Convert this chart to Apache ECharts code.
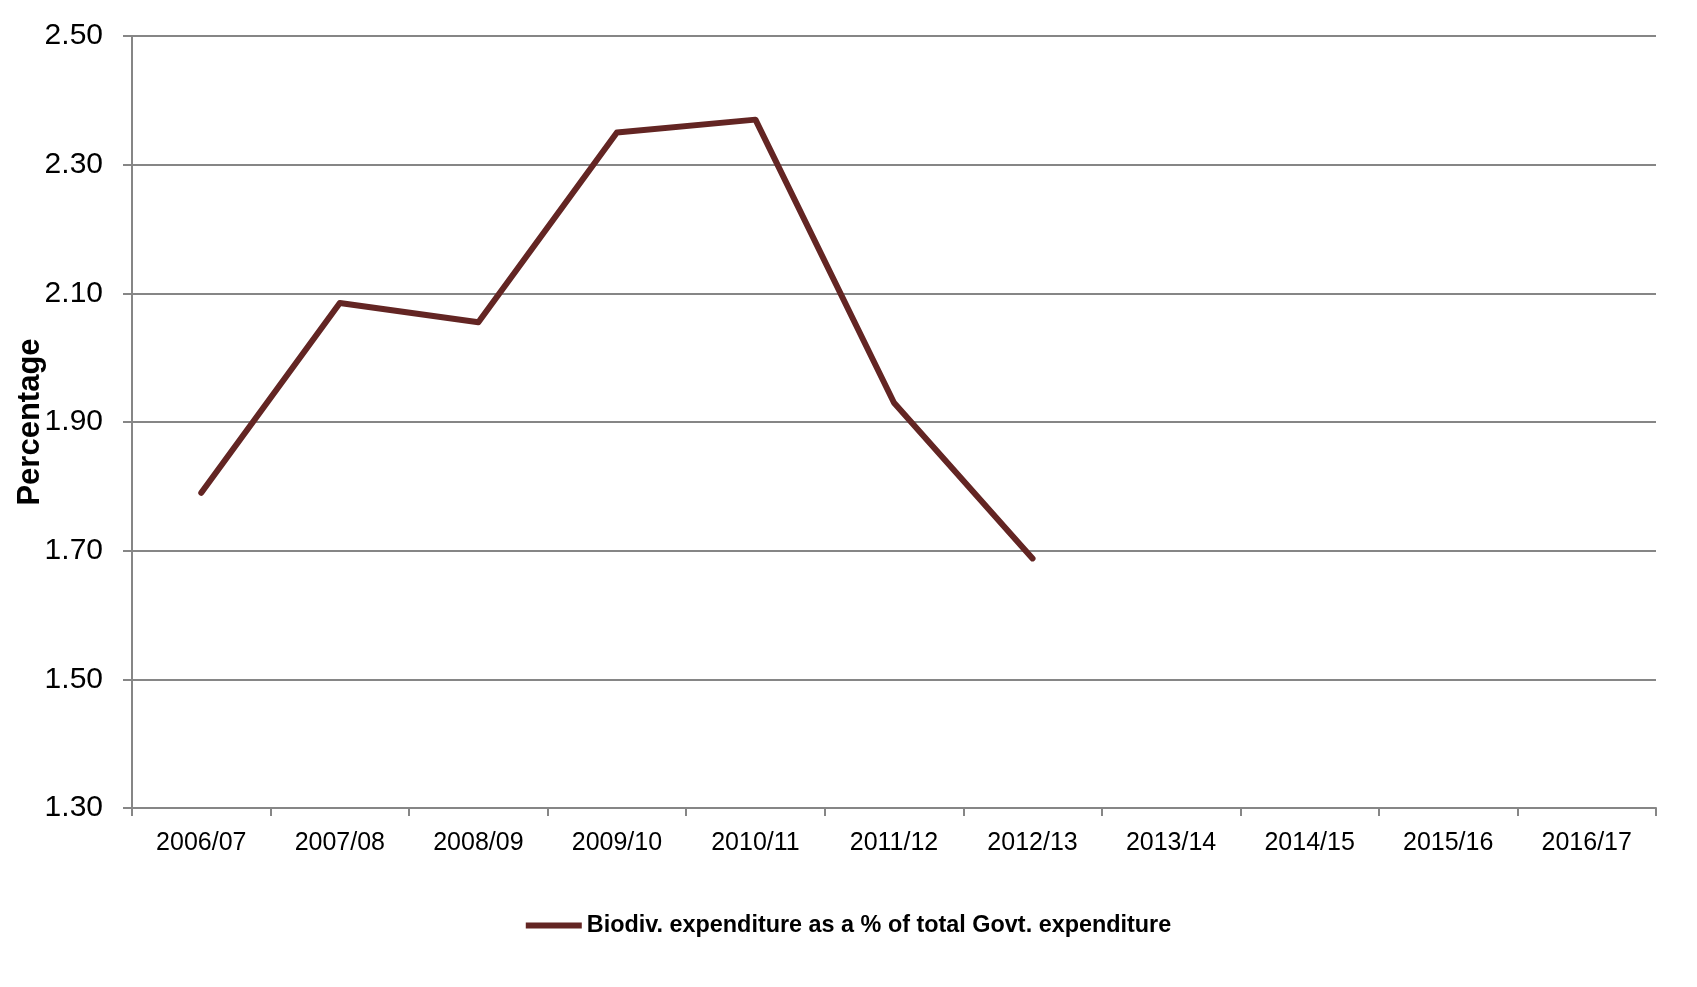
<!DOCTYPE html>
<html>
<head>
<meta charset="utf-8">
<script src="https://cdn.jsdelivr.net/npm/echarts@6/dist/echarts.min.js"></script>
<style>
html,body{margin:0;padding:0;background:#fff;}
#chart{width:1697px;height:987px;}
</style>
</head>
<body>
<div id="chart"></div>
<script>
var categories = ['2006/07','2007/08','2008/09','2009/10','2010/11','2011/12','2012/13','2013/14','2014/15','2015/16','2016/17'];
var seriesName = 'Biodiv. expenditure as a % of total Govt. expenditure';
var values = [1.79, 2.085, 2.055, 2.35, 2.37, 1.93, 1.688, null, null, null, null];
var yTicks = {min: 1.30, max: 2.50, interval: 0.20};

var chart = echarts.init(document.getElementById('chart'));
var font = 'Liberation Sans, Arial, sans-serif';
chart.setOption({
  animation: false,
  grid: {left: 132, right: 41, top: 36, bottom: 179, containLabel: false, outerBoundsMode: 'none'},
  legend: {
    data: [seriesName],
    bottom: 45,
    left: 'center',
    itemWidth: 56,
    itemHeight: 6,
    itemGap: 6,
    icon: 'rect',
    textStyle: {fontFamily: font, fontSize: 23.4, fontWeight: 'bold', color: '#000'}
  },
  xAxis: {
    type: 'category',
    data: categories,
    boundaryGap: true,
    axisLine: {lineStyle: {color: '#868686', width: 2}},
    axisTick: {show: true, length: 8, lineStyle: {color: '#868686', width: 2}},
    axisLabel: {fontFamily: font, fontSize: 25, color: '#000', margin: 23}
  },
  yAxis: {
    type: 'value',
    min: yTicks.min, max: yTicks.max, interval: yTicks.interval,
    name: 'Percentage',
    nameLocation: 'middle',
    nameGap: 86,
    nameRotate: 90,
    nameMoveOverlap: false,
    nameTextStyle: {fontFamily: font, fontSize: 31, fontWeight: 'bold', color: '#000'},
    axisLine: {show: true, lineStyle: {color: '#868686', width: 2}},
    axisTick: {show: true, length: 9, lineStyle: {color: '#868686', width: 2}},
    axisLabel: {fontFamily: font, fontSize: 30, color: '#000', margin: 29,
      formatter: function (v) { return v.toFixed(2); }},
    splitLine: {lineStyle: {color: '#868686', width: 2}}
  },
  series: [{
    name: seriesName,
    type: 'line',
    data: values,
    symbol: 'none',
    connectNulls: false,
    lineStyle: {color: '#632523', width: 6, cap: 'round', join: 'round'},
    itemStyle: {color: '#632523'}
  }]
});
</script>
</body>
</html>
